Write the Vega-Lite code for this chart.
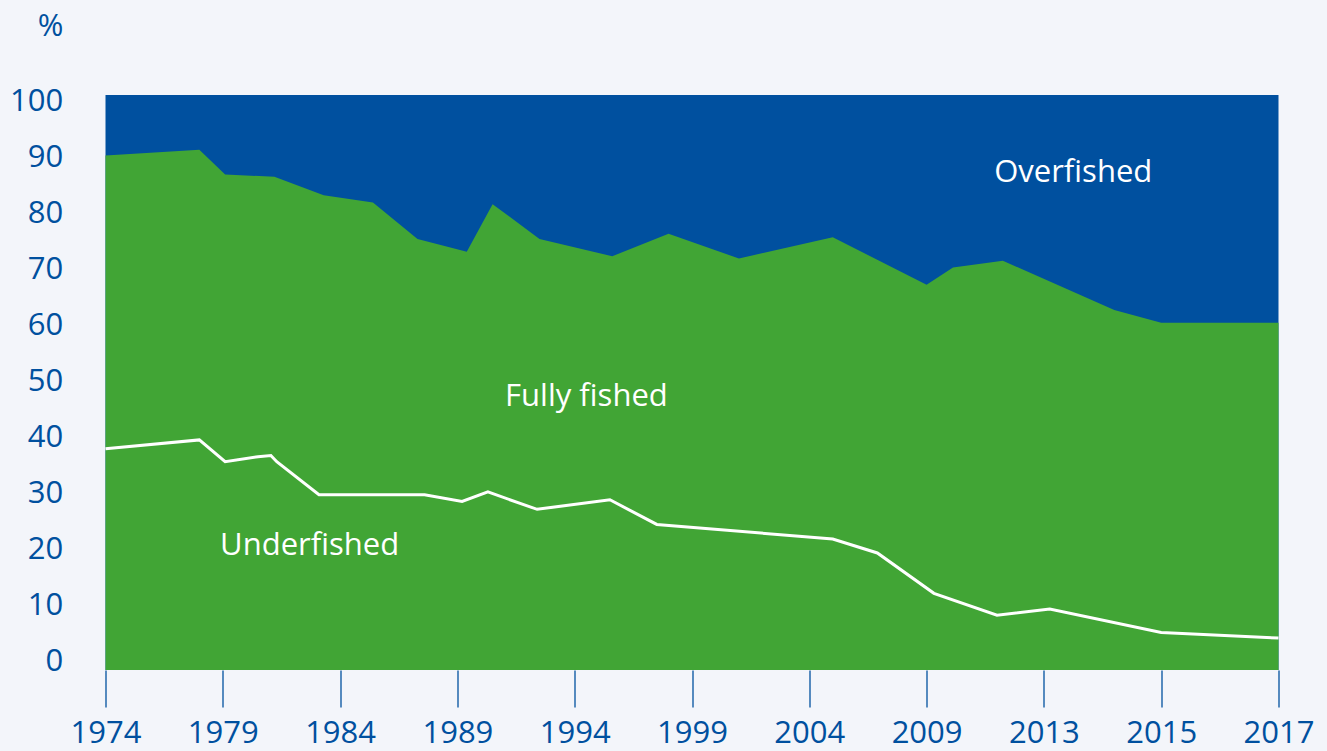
{
  "$schema": "https://vega.github.io/schema/vega-lite/v6.json",
  "width": 1173,
  "height": 575,
  "autosize": "none",
  "padding": {"left": 105.5, "top": 95, "right": 48.5, "bottom": 81},
  "background": "#f3f5fa",
  "config": {"view": {"stroke": null, "fill": "#00509f"}, "font": "Open Sans"},
  "datasets": {
    "sustainable": [
      {"year": 1974, "share": 90.1},
      {"year": 1978, "share": 91.1},
      {"year": 1979.1, "share": 86.7},
      {"year": 1981.2, "share": 86.3},
      {"year": 1983.3, "share": 83.0},
      {"year": 1985.4, "share": 81.7},
      {"year": 1987.3, "share": 75.2},
      {"year": 1989.4, "share": 72.9},
      {"year": 1990.5, "share": 81.4},
      {"year": 1992.5, "share": 75.2},
      {"year": 1995.6, "share": 72.1},
      {"year": 1998, "share": 76.1},
      {"year": 2001, "share": 71.7},
      {"year": 2005, "share": 75.5},
      {"year": 2009, "share": 67.0},
      {"year": 2009.9, "share": 70.1},
      {"year": 2011.6, "share": 71.3},
      {"year": 2014.2, "share": 62.5},
      {"year": 2015, "share": 60.2},
      {"year": 2017, "share": 60.2}
    ],
    "underfished": [
      {"year": 1974, "share": 37.7},
      {"year": 1978, "share": 39.3},
      {"year": 1979.1, "share": 35.4},
      {"year": 1980.5, "share": 36.3},
      {"year": 1981.05, "share": 36.5},
      {"year": 1981.3, "share": 35.4},
      {"year": 1983.1, "share": 29.5},
      {"year": 1987.6, "share": 29.5},
      {"year": 1989.2, "share": 28.3},
      {"year": 1990.3, "share": 30.0},
      {"year": 1992.4, "share": 26.9},
      {"year": 1995.5, "share": 28.6},
      {"year": 1997.5, "share": 24.2},
      {"year": 2005, "share": 21.6},
      {"year": 2006.9, "share": 19.1},
      {"year": 2009.25, "share": 11.9},
      {"year": 2011.4, "share": 8.0},
      {"year": 2013.1, "share": 9.1},
      {"year": 2015, "share": 4.9},
      {"year": 2017, "share": 3.9}
    ],
    "labels": [
      {"label": "Overfished", "year": 2013.5, "share": 86.9},
      {"label": "Fully fished", "year": 1994.5, "share": 47.0},
      {"label": "Underfished", "year": 1982.7, "share": 20.3}
    ]
  },
  "layer": [
    {
      "data": {"name": "sustainable"},
      "mark": {"type": "area", "color": "#41a535", "opacity": 1},
      "encoding": {
        "x": {
          "field": "year",
          "type": "quantitative",
          "scale": {
            "domain": [1974, 1979, 1984, 1989, 1994, 1999, 2004, 2009, 2013, 2015, 2017],
            "range": [0, 117.3, 234.6, 351.9, 469.2, 586.5, 703.8, 821.1, 938.4, 1055.7, 1173],
            "nice": false,
            "zero": false
          },
          "axis": {
            "values": [1974, 1979, 1984, 1989, 1994, 1999, 2004, 2009, 2013, 2015, 2017],
            "format": "d",
            "title": null,
            "domain": false,
            "grid": false,
            "tickSize": 37,
            "tickColor": "#00509f",
            "tickWidth": 1.3,
            "labelFontSize": 31,
            "labelColor": "#00509f",
            "labelBaseline": "alphabetic",
            "labelPadding": 35.5,
            "labelFlush": false,
            "labelOverlap": false
          }
        },
        "y": {
          "field": "share",
          "type": "quantitative",
          "scale": {"domain": [-1.8, 100.9], "nice": false, "zero": false},
          "axis": {
            "values": [0, 10, 20, 30, 40, 50, 60, 70, 80, 90, 100],
            "title": "%",
            "titleAngle": 0,
            "titleX": -55.5,
            "titleY": -69,
            "titleAlign": "center",
            "titleBaseline": "middle",
            "titleFontSize": 31,
            "titleFontWeight": "normal",
            "titleColor": "#00509f",
            "ticks": false,
            "domain": false,
            "grid": false,
            "labelPadding": 42.8,
            "labelOffset": 1.5,
            "labelFontSize": 31,
            "labelColor": "#00509f"
          }
        },
        "y2": {"datum": -1.8}
      }
    },
    {
      "data": {"name": "underfished"},
      "mark": {"type": "line", "color": "#ffffff", "strokeWidth": 3},
      "encoding": {
        "x": {"field": "year", "type": "quantitative"},
        "y": {"field": "share", "type": "quantitative"}
      }
    },
    {
      "data": {"name": "labels"},
      "mark": {"type": "text", "color": "#ffffff", "fontSize": 31, "align": "center", "baseline": "middle"},
      "encoding": {
        "x": {"field": "year", "type": "quantitative"},
        "y": {"field": "share", "type": "quantitative"},
        "text": {"field": "label"}
      }
    }
  ]
}
